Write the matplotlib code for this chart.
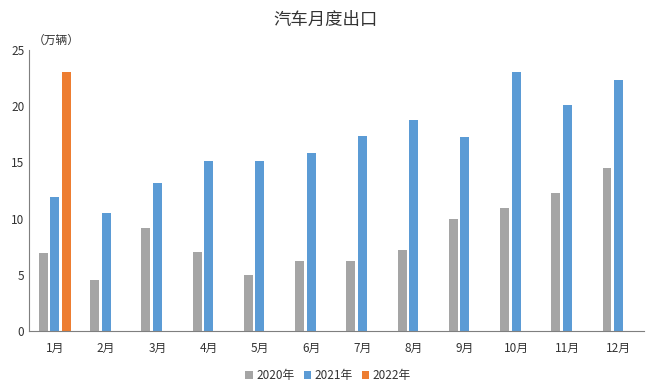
import matplotlib.pyplot as plt
import numpy as np

plt.rcParams['font.family'] = ['Noto Sans CJK SC', 'DejaVu Sans']

months = ['1月', '2月', '3月', '4月', '5月', '6月', '7月', '8月', '9月', '10月', '11月', '12月']
val_2020 = [6.9, 4.5, 9.2, 7.0, 5.0, 6.2, 6.2, 7.2, 10.0, 10.9, 12.3, 14.5]
val_2021 = [11.9, 10.5, 13.2, 15.1, 15.1, 15.8, 17.4, 18.8, 17.3, 23.1, 20.1, 22.3]
val_2022 = [23.1]

x = np.arange(len(months))
w = 0.175
gap = 0.225

fig = plt.figure(figsize=(6.5, 3.92), dpi=100)
ax = fig.add_axes([0.045, 0.156, 0.946, 0.716])

ax.bar(x - gap, val_2020, w, color='#A5A5A5', label='2020年')
ax.bar(x, val_2021, w, color='#5B9BD5', label='2021年')
ax.bar(x[:len(val_2022)] + gap, val_2022, w, color='#ED7D31', label='2022年')

ax.set_xlim(-0.5, 11.5)
ax.set_ylim(0, 25)
ax.set_yticks([0, 5, 10, 15, 20, 25])
ax.set_xticks(x)
ax.set_xticklabels(months)
ax.tick_params(length=0, labelsize=8.5, colors='#333333')
ax.tick_params(axis='x', pad=8)

for s in ['top', 'right']:
    ax.spines[s].set_visible(False)
ax.spines['left'].set_color('#7f7f7f')
ax.spines['bottom'].set_color('#7f7f7f')

fig.text(0.5, 0.95, '汽车月度出口', ha='center', va='center', fontsize=12.5, color='#333333')
fig.text(0.05, 0.898, '（万辆）', ha='left', va='center', fontsize=8.5, color='#333333')

fig.legend(loc='center', bbox_to_anchor=(0.505, 0.042), ncol=3, frameon=False,
           fontsize=8.5, handlelength=0.6, handleheight=0.6, handletextpad=0.3,
           columnspacing=0.8, labelcolor='#333333')

fig.savefig('out.png', dpi=100)
